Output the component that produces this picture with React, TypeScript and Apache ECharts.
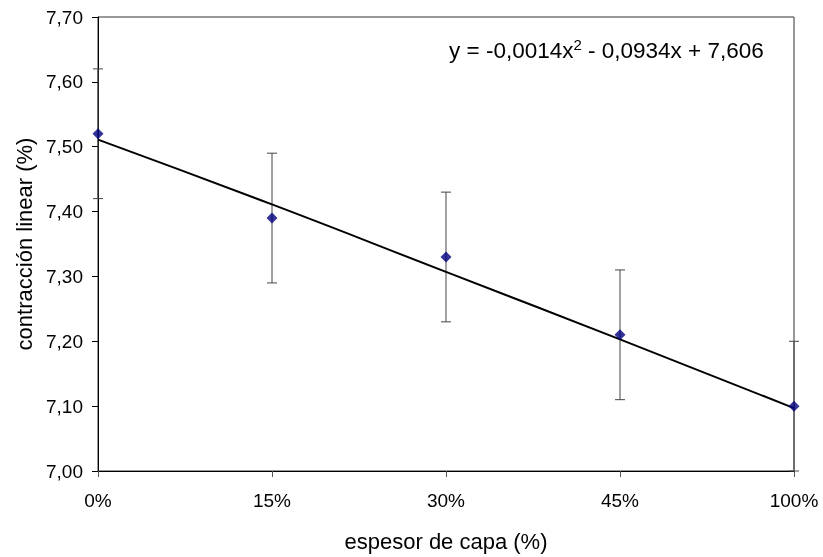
import React, { useEffect, useRef } from "react";
import * as echarts from "echarts";

const categories = ["0%", "15%", "30%", "45%", "100%"];
const values = [7.52, 7.39, 7.33, 7.21, 7.1];
const errors = [0.1, 0.1, 0.1, 0.1, 0.1];
const trend = [7.511, 7.411, 7.307, 7.203, 7.097];
const yTicks = { min: 7.0, max: 7.7, interval: 0.1 };
const equation = "y = -0,0014x{sup|2} - 0,0934x + 7,606";

export default function App() {
  const ref = useRef<HTMLDivElement>(null);
  useEffect(() => {
    if (!ref.current) return;
    const chart = echarts.init(ref.current, null, { renderer: "svg" });
    const font = "Liberation Sans, Arial, sans-serif";
    chart.setOption({
      animation: false,
      textStyle: { fontFamily: font },
      grid: {
        left: 98,
        right: 29,
        top: 17,
        bottom: 86,
        show: true,
        borderColor: "#333",
        borderWidth: 1,
      },
      xAxis: {
        type: "category",
        data: categories,
        boundaryGap: false,
        axisLine: { lineStyle: { color: "#000", width: 1 } },
        axisTick: { show: true, length: 6, lineStyle: { color: "#555" }, alignWithLabel: true },
        axisLabel: { color: "#000", fontSize: 19, margin: 20, fontFamily: font },
        splitLine: { show: false },
        name: "espesor de capa (%)",
        nameLocation: "middle",
        nameGap: 59,
        nameTextStyle: { color: "#000", fontSize: 22, fontFamily: font },
      },
      yAxis: {
        type: "value",
        min: yTicks.min,
        max: yTicks.max,
        interval: yTicks.interval,
        axisLine: { show: true, lineStyle: { color: "#000", width: 1 } },
        axisTick: { show: true, length: 6, inside: false, lineStyle: { color: "#000" } },
        axisLabel: {
          color: "#000",
          fontSize: 19,
          margin: 15,
          fontFamily: font,
          formatter: (v: number) => v.toFixed(2).replace(".", ","),
        },
        splitLine: { show: false },
        name: "contracción linear (%)",
        nameLocation: "middle",
        nameGap: 61,
        nameTextStyle: { color: "#000", fontSize: 22, fontFamily: font },
      },
      graphic: [
        {
          type: "text",
          x: 449,
          y: 50,
          style: {
            text: equation,
            fontSize: 22.5,
            fontFamily: font,
            fill: "#000",
            verticalAlign: "middle",
            rich: {
              sup: { fontSize: 15, verticalAlign: "top", padding: [0, 0, 12, 0], fill: "#000", fontFamily: font },
            },
          },
        },
      ],
      series: [
        {
          type: "custom",
          z: 1,
          data: values.map((v, i) => [i, v - errors[i], v + errors[i]]),
          renderItem: (params: any, api: any) => {
            const x = api.value(0);
            const lo = api.coord([x, api.value(1)]);
            const hi = api.coord([x, api.value(2)]);
            const cap = 5;
            const st = { stroke: "#444", lineWidth: 1 };
            return {
              type: "group",
              children: [
                { type: "line", shape: { x1: lo[0], y1: lo[1], x2: hi[0], y2: hi[1] }, style: st },
                { type: "line", shape: { x1: lo[0] - cap, y1: lo[1], x2: lo[0] + cap, y2: lo[1] }, style: st },
                { type: "line", shape: { x1: hi[0] - cap, y1: hi[1], x2: hi[0] + cap, y2: hi[1] }, style: st },
              ],
            };
          },
        },
        {
          type: "line",
          data: trend,
          smooth: true,
          symbol: "none",
          lineStyle: { color: "#000", width: 2 },
          z: 2,
        },
        {
          type: "scatter",
          data: values,
          symbol: "diamond",
          symbolSize: 11,
          itemStyle: { color: "#000080" },
          z: 3,
        },
      ],
    });
    return () => chart.dispose();
  }, []);
  return (
    <div
      ref={ref}
      style={{ position: "fixed", left: 0, top: 0, width: 823, height: 557 }}
    />
  );
}
